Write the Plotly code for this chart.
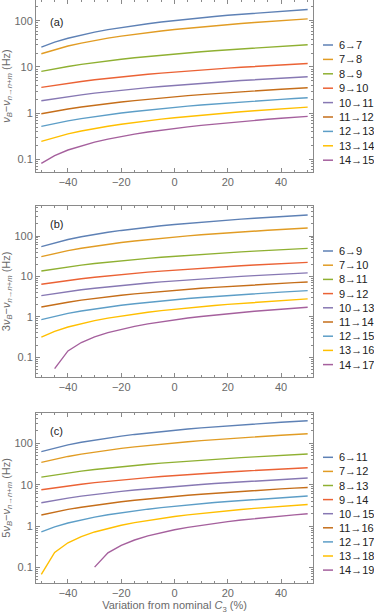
import plotly.graph_objects as go

# variation from nominal C3 (%)
x = [-50, -45, -40, -35, -30, -25, -20, -15, -10, -5, 0,
     5, 10, 15, 20, 25, 30, 35, 40, 45, 50]

colors = ['#5E81B5', '#E19C24', '#8FB032', '#EB6235', '#8778B3',
          '#C56E1A', '#5D9EC7', '#FFBF00', '#A5609D']

# ---- panel (a): nu_B - nu_{n->n+m} (Hz)
labels_a = ['6→7', '7→8', '8→9', '9→10', '10→11', '11→12', '12→13', '13→14', '14→15']
a_6_7 = [26.9, 34.4, 41.8, 49.3, 56.7, 64.2, 71.6, 79.1, 86.5, 94.0, 101.5,
         108.9, 116.4, 123.8, 131.3, 138.7, 146.2, 153.6, 161.1, 168.5, 176.0]
a_7_8 = [19.3, 23.8, 28.4, 32.9, 37.4, 42.0, 46.5, 51.0, 55.6, 60.1, 64.7,
         69.2, 73.7, 78.3, 82.8, 87.3, 91.9, 96.4, 100.9, 105.5, 110.0]
a_8_9 = [8.0, 9.12, 10.23, 11.35, 12.46, 13.58, 14.69, 15.81, 16.92, 18.04, 19.15,
         20.27, 21.38, 22.50, 23.61, 24.73, 25.84, 26.96, 28.07, 29.19, 30.3]
a_9_10 = [3.61, 4.02, 4.44, 4.85, 5.27, 5.68, 6.10, 6.51, 6.93, 7.34, 7.76,
          8.17, 8.58, 9.00, 9.41, 9.83, 10.24, 10.66, 11.07, 11.49, 11.9]
a_10_11 = [1.85, 2.06, 2.28, 2.49, 2.71, 2.92, 3.14, 3.35, 3.57, 3.78, 4.00,
           4.21, 4.42, 4.64, 4.85, 5.07, 5.28, 5.50, 5.71, 5.93, 6.14]
a_11_12 = [0.97, 1.10, 1.23, 1.36, 1.49, 1.62, 1.74, 1.87, 2.00, 2.13, 2.26,
           2.39, 2.52, 2.65, 2.78, 2.91, 3.03, 3.16, 3.29, 3.42, 3.55]
a_12_13 = [0.516, 0.598, 0.679, 0.761, 0.843, 0.925, 1.006, 1.088, 1.170, 1.251, 1.333,
           1.415, 1.496, 1.578, 1.660, 1.742, 1.823, 1.905, 1.987, 2.068, 2.15]
a_13_14 = [0.244, 0.299, 0.355, 0.410, 0.465, 0.521, 0.576, 0.631, 0.686, 0.742, 0.797,
           0.852, 0.908, 0.963, 1.018, 1.074, 1.129, 1.184, 1.239, 1.295, 1.35]
a_14_15 = [0.0817, 0.120, 0.159, 0.197, 0.235, 0.274, 0.312, 0.351, 0.389, 0.427, 0.466,
           0.504, 0.543, 0.581, 0.620, 0.658, 0.696, 0.735, 0.773, 0.812, 0.85]

# ---- panel (b): 3 nu_B - nu_{n->n+m} (Hz)
labels_b = ['6→9', '7→10', '8→11', '9→12', '10→13', '11→14', '12→15', '13→16', '14→17']
b_6_9 = [54.5, 68.3, 82.2, 96.0, 109.8, 123.6, 137.5, 151.3, 165.1, 178.9, 192.8,
         206.6, 220.4, 234.2, 248.1, 261.9, 275.7, 289.5, 303.4, 317.2, 331.0]
b_7_10 = [30.8, 37.2, 43.5, 49.9, 56.2, 62.6, 69.0, 75.3, 81.7, 88.0, 94.4,
          100.8, 107.1, 113.5, 119.8, 126.2, 132.6, 138.9, 145.3, 151.6, 158.0]
b_8_11 = [13.6, 15.4, 17.19, 18.99, 20.78, 22.58, 24.37, 26.17, 27.96, 29.76, 31.55,
          33.35, 35.14, 36.94, 38.73, 40.53, 42.32, 44.12, 45.91, 47.71, 49.5]
b_9_12 = [6.38, 7.18, 7.97, 8.77, 9.56, 10.36, 11.16, 11.95, 12.75, 13.54, 14.34,
          15.14, 15.93, 16.73, 17.52, 18.32, 19.12, 19.91, 20.71, 21.50, 22.3]
b_10_13 = [3.34, 3.78, 4.23, 4.67, 5.11, 5.56, 6.00, 6.44, 6.88, 7.33, 7.77,
           8.21, 8.66, 9.10, 9.54, 9.99, 10.43, 10.87, 11.31, 11.76, 12.2]
b_11_14 = [1.75, 2.03, 2.30, 2.58, 2.86, 3.13, 3.41, 3.69, 3.96, 4.24, 4.52,
           4.79, 5.07, 5.34, 5.62, 5.90, 6.17, 6.45, 6.73, 7.00, 7.28]
b_12_15 = [0.853, 1.033, 1.213, 1.393, 1.572, 1.752, 1.932, 2.112, 2.292, 2.472, 2.652,
           2.831, 3.011, 3.191, 3.371, 3.551, 3.731, 3.910, 4.090, 4.270, 4.45]
b_13_16 = [0.312, 0.435, 0.558, 0.681, 0.804, 0.927, 1.049, 1.172, 1.295, 1.418, 1.541,
           1.664, 1.787, 1.910, 2.033, 2.156, 2.278, 2.401, 2.524, 2.647, 2.77]
b_14_17 = [None, 0.052, 0.143, 0.231, 0.318, 0.406, 0.493, 0.581, 0.669, 0.756, 0.844,
           0.931, 1.019, 1.107, 1.194, 1.282, 1.369, 1.457, 1.545, 1.632, 1.72]

# ---- panel (c): 5 nu_B - nu_{n->n+m} (Hz)
labels_c = ['6→11', '7→12', '8→13', '9→14', '10→15', '11→16', '12→17', '13→18', '14→19']
c_6_11 = [62.9, 77.4, 91.9, 106.4, 120.9, 135.4, 149.9, 164.4, 178.9, 193.4, 208.0,
          222.5, 237.0, 251.5, 266.0, 280.5, 295.0, 309.5, 324.0, 338.5, 353.0]
c_7_12 = [34.7, 41.5, 48.3, 55.1, 62.0, 68.8, 75.6, 82.4, 89.2, 96.0, 102.9,
          109.7, 116.5, 123.3, 130.1, 136.9, 143.7, 150.6, 157.4, 164.2, 171.0]
c_8_13 = [15.3, 17.3, 19.29, 21.29, 23.28, 25.28, 27.27, 29.27, 31.26, 33.26, 35.25,
          37.25, 39.24, 41.24, 43.23, 45.23, 47.22, 49.22, 51.21, 53.21, 55.2]
c_9_14 = [7.57, 8.48, 9.39, 10.30, 11.22, 12.13, 13.04, 13.95, 14.86, 15.77, 16.69,
          17.60, 18.51, 19.42, 20.33, 21.24, 22.15, 23.07, 23.98, 24.89, 25.8]
c_10_15 = [3.67, 4.21, 4.75, 5.29, 5.84, 6.38, 6.92, 7.46, 8.00, 8.54, 9.09,
           9.63, 10.17, 10.71, 11.25, 11.79, 12.33, 12.88, 13.42, 13.96, 14.5]
c_11_16 = [1.85, 2.19, 2.53, 2.86, 3.20, 3.54, 3.88, 4.21, 4.55, 4.89, 5.23,
           5.56, 5.90, 6.24, 6.58, 6.91, 7.25, 7.59, 7.93, 8.26, 8.6]
c_12_17 = [0.729, 0.959, 1.188, 1.418, 1.647, 1.877, 2.106, 2.336, 2.565, 2.795, 3.025,
           3.254, 3.484, 3.713, 3.943, 4.172, 4.402, 4.631, 4.861, 5.090, 5.32]
c_13_18 = [0.068, 0.231, 0.395, 0.559, 0.722, 0.886, 1.049, 1.213, 1.376, 1.540, 1.704,
           1.867, 2.031, 2.194, 2.358, 2.521, 2.685, 2.849, 3.012, 3.176, 3.34]
c_14_19 = [None, None, None, None, 0.102, 0.226, 0.344, 0.461, 0.579, 0.697, 0.814,
           0.932, 1.049, 1.167, 1.285, 1.402, 1.520, 1.638, 1.755, 1.873, 1.99]

panels = [
    ('a', labels_a, [a_6_7, a_7_8, a_8_9, a_9_10, a_10_11, a_11_12, a_12_13, a_13_14, a_14_15]),
    ('b', labels_b, [b_6_9, b_7_10, b_8_11, b_9_12, b_10_13, b_11_14, b_12_15, b_13_16, b_14_17]),
    ('c', labels_c, [c_6_11, c_7_12, c_8_13, c_9_14, c_10_15, c_11_16, c_12_17, c_13_18, c_14_19]),
]

# ---- layout geometry (pixels of the 374x616 page)
W, H = 374, 616
ML, MR, MT, MB = 36, 61, 0, 33
PW, PH = W - ML - MR, H - MT - MB


def fx(p):
    return (p - ML) / PW


def fy(p):
    return (H - MB - p) / PH


frames = [(0, 172), (206, 376.7), (412.7, 583)]         # top / bottom px of each frame
yranges = [[-1.275, 2.45], [-1.483, 2.743], [-1.375, 2.741]]
legend_top = [45, 251, 457.3]
legend_step = [14.4, 14.2, 14.1]
label_y = [0.872, 0.895, 0.89]
ytitles = [
    '<i>ν</i><sub><i>B</i></sub>−<i>ν</i><sub><i>n</i>→<i>n</i>+<i>m</i></sub> (Hz)',
    '3<i>ν</i><sub><i>B</i></sub>−<i>ν</i><sub><i>n</i>→<i>n</i>+<i>m</i></sub> (Hz)',
    '5<i>ν</i><sub><i>B</i></sub>−<i>ν</i><sub><i>n</i>→<i>n</i>+<i>m</i></sub> (Hz)',
]

FONT = 'Liberation Sans, DejaVu Sans, Arial, sans-serif'
FRAME = '#8a8a8a'
TXT = '#6a6a6a'
minor_y = [m * 10.0 ** k for k in range(-2, 4) for m in range(2, 10)]

fig = go.Figure()
annotations = []
shapes = []

for i, (tag, labels, series) in enumerate(panels):
    sfx = '' if i == 0 else str(i + 1)
    for name, vals, col in zip(labels, series, colors):
        fig.add_trace(go.Scatter(x=x, y=vals, mode='lines', name=name,
                                 line=dict(color=col, width=1.4),
                                 xaxis='x' + sfx, yaxis='y' + sfx,
                                 showlegend=False, hoverinfo='skip'))
    top, bot = frames[i]
    xa = dict(domain=[0, 1], anchor='y' + sfx, range=[-52, 52], automargin=False,
              tick0=0, dtick=20, ticks='inside', ticklen=4, tickcolor=FRAME,
              minor=dict(tick0=0, dtick=5, ticks='inside', ticklen=2, tickcolor=FRAME),
              showline=True, linecolor=FRAME, linewidth=1, mirror='allticks',
              showgrid=False, zeroline=False,
              tickfont=dict(size=11, color=TXT, family=FONT))
    ya = dict(domain=[fy(bot), min(1, fy(top))], anchor='x' + sfx, type='log',
              range=yranges[i], automargin=False,
              tickvals=[0.1, 1, 10, 100], ticktext=['0.1', '1', '10', '100'],
              ticks='inside', ticklen=4, tickcolor=FRAME,
              minor=dict(tickvals=minor_y, ticks='inside', ticklen=2, tickcolor=FRAME),
              showline=True, linecolor=FRAME, linewidth=1, mirror='allticks',
              showgrid=False, zeroline=False,
              tickfont=dict(size=11, color=TXT, family=FONT),
              title=dict(text=ytitles[i], standoff=3,
                         font=dict(size=11, color=TXT, family=FONT)))
    if i == 2:
        xa['title'] = dict(text='Variation from nominal <i>C</i><sub>3</sub> (%)', standoff=2,
                           font=dict(size=11, color=TXT, family=FONT))
    fig.update_layout({'xaxis' + sfx: xa, 'yaxis' + sfx: ya})

    annotations.append(dict(text='(' + tag + ')', xref='x' + sfx + ' domain', yref='y' + sfx + ' domain',
                            x=0.043, y=label_y[i], xanchor='left', yanchor='middle', showarrow=False,
                            font=dict(size=11, color='#222222', family=FONT)))
    # legend, drawn by hand so the line samples stay short
    for k, (name, col) in enumerate(zip(labels, colors)):
        yy = fy(legend_top[i] + legend_step[i] * k)
        shapes.append(dict(type='line', xref='paper', yref='paper',
                           x0=fx(323), x1=fx(333), y0=yy, y1=yy,
                           line=dict(color=col, width=1.5)))
        annotations.append(dict(text=name, xref='paper', yref='paper', x=fx(337), y=yy,
                                xanchor='left', yanchor='middle', showarrow=False,
                                font=dict(size=11, color='#222222', family=FONT)))

fig.update_layout(template='none', width=W, height=H, margin=dict(l=ML, r=MR, t=MT, b=MB),
                  paper_bgcolor='white', plot_bgcolor='white',
                  font=dict(family=FONT, size=11, color=TXT),
                  annotations=annotations, shapes=shapes, showlegend=False)

# the page's body has a default 8px margin; drop it so the figure fills the window
fig.write_html('out.html', config={'displayModeBar': False},
               post_script="document.body.style.margin='0';")
